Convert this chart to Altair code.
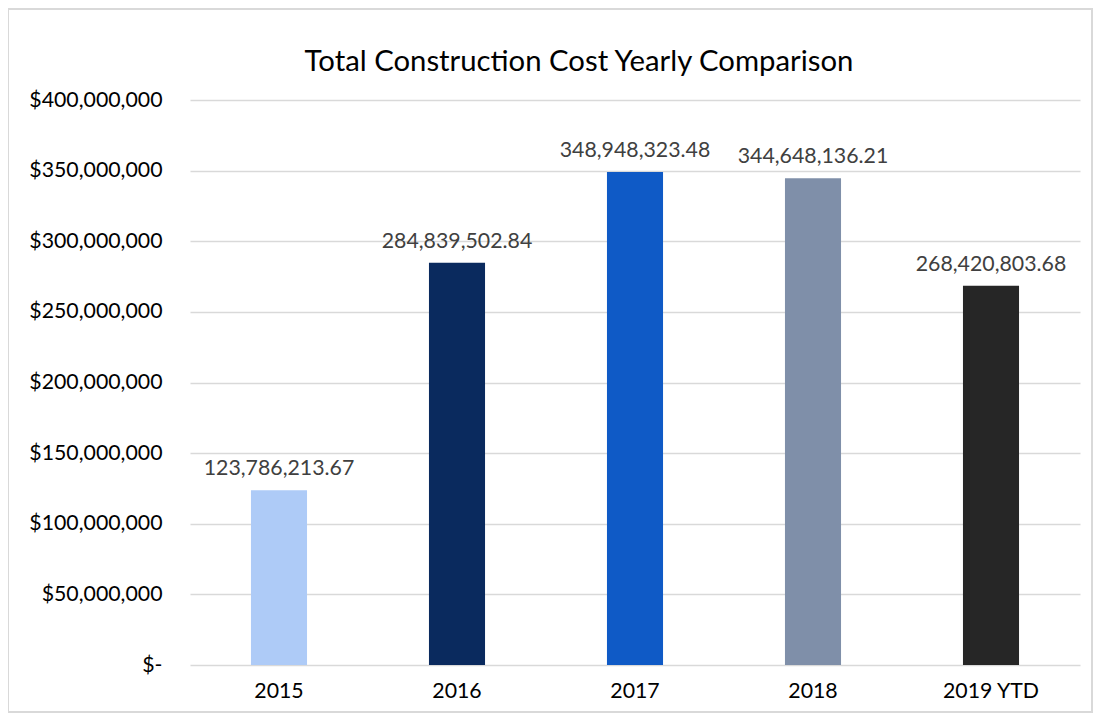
import altair as alt
import pandas as pd

years = ["2015", "2016", "2017", "2018", "2019 YTD"]
costs = [123786213.67, 284839502.84, 348948323.48, 344648136.21, 268420803.68]
colors = ["#aecbf7", "#0a2a5e", "#0f5ac6", "#7f8fa9", "#262626"]
title_text = ["Total Construction Cost Yearly Comparison"]

df = pd.DataFrame({"year": years, "cost": costs})
tdf = pd.DataFrame({"t": title_text})

FONT = "Lato"
FS = 21.3

x = alt.X("year:N", sort=years, title=None,
          scale=alt.Scale(paddingInner=0.685, paddingOuter=0.3425),
          axis=alt.Axis(labelAngle=0, labelFontSize=FS, labelColor="#000000",
                        labelFont=FONT, ticks=False, domain=False, labelPadding=15))
y = alt.Y("cost:Q", title=None,
          scale=alt.Scale(domain=[0, 400000000]),
          axis=alt.Axis(values=[0, 50000000, 100000000, 150000000, 200000000,
                                250000000, 300000000, 350000000, 400000000],
                        labelExpr="datum.value == 0 ? '$-' : '$' + format(datum.value, ',.0f')",
                        labelFontSize=FS, labelColor="#000000", labelFont=FONT,
                        ticks=False, domain=False, labelPadding=28,
                        gridColor="#d9d9d9", gridWidth=1.5))

bars = alt.Chart(df).mark_bar().encode(
    x=x, y=y,
    color=alt.Color("year:N", sort=years,
                    scale=alt.Scale(domain=years, range=colors), legend=None),
)

labels = alt.Chart(df).mark_text(
    baseline="bottom", dy=-11, fontSize=FS, color="#404040", font=FONT
).encode(
    x=alt.X("year:N", sort=years),
    y="cost:Q",
    text=alt.Text("cost:Q", format=",.2f"),
)

frame = alt.Chart(df).mark_rect(
    fill=None, stroke="#d9d9d9", strokeWidth=1.5, clip=False
).encode(
    x=alt.value(-182), x2=alt.value(902), y=alt.value(-91), y2=alt.value(612)
)

title = alt.Chart(tdf).mark_text(
    fontSize=29.3, font=FONT, color="#000000", baseline="middle", align="center"
).encode(
    x=alt.value(389), y=alt.value(-38), text="t:N"
)

chart = alt.layer(frame, bars, labels, title).properties(
    width=890, height=565,
    autosize=alt.AutoSizeParams(type="none"),
    padding={"left": 182, "top": 92, "right": 14, "bottom": 48},
).configure_view(stroke=None)

chart.save("out.html", embed_options={"renderer": "svg", "actions": False})
